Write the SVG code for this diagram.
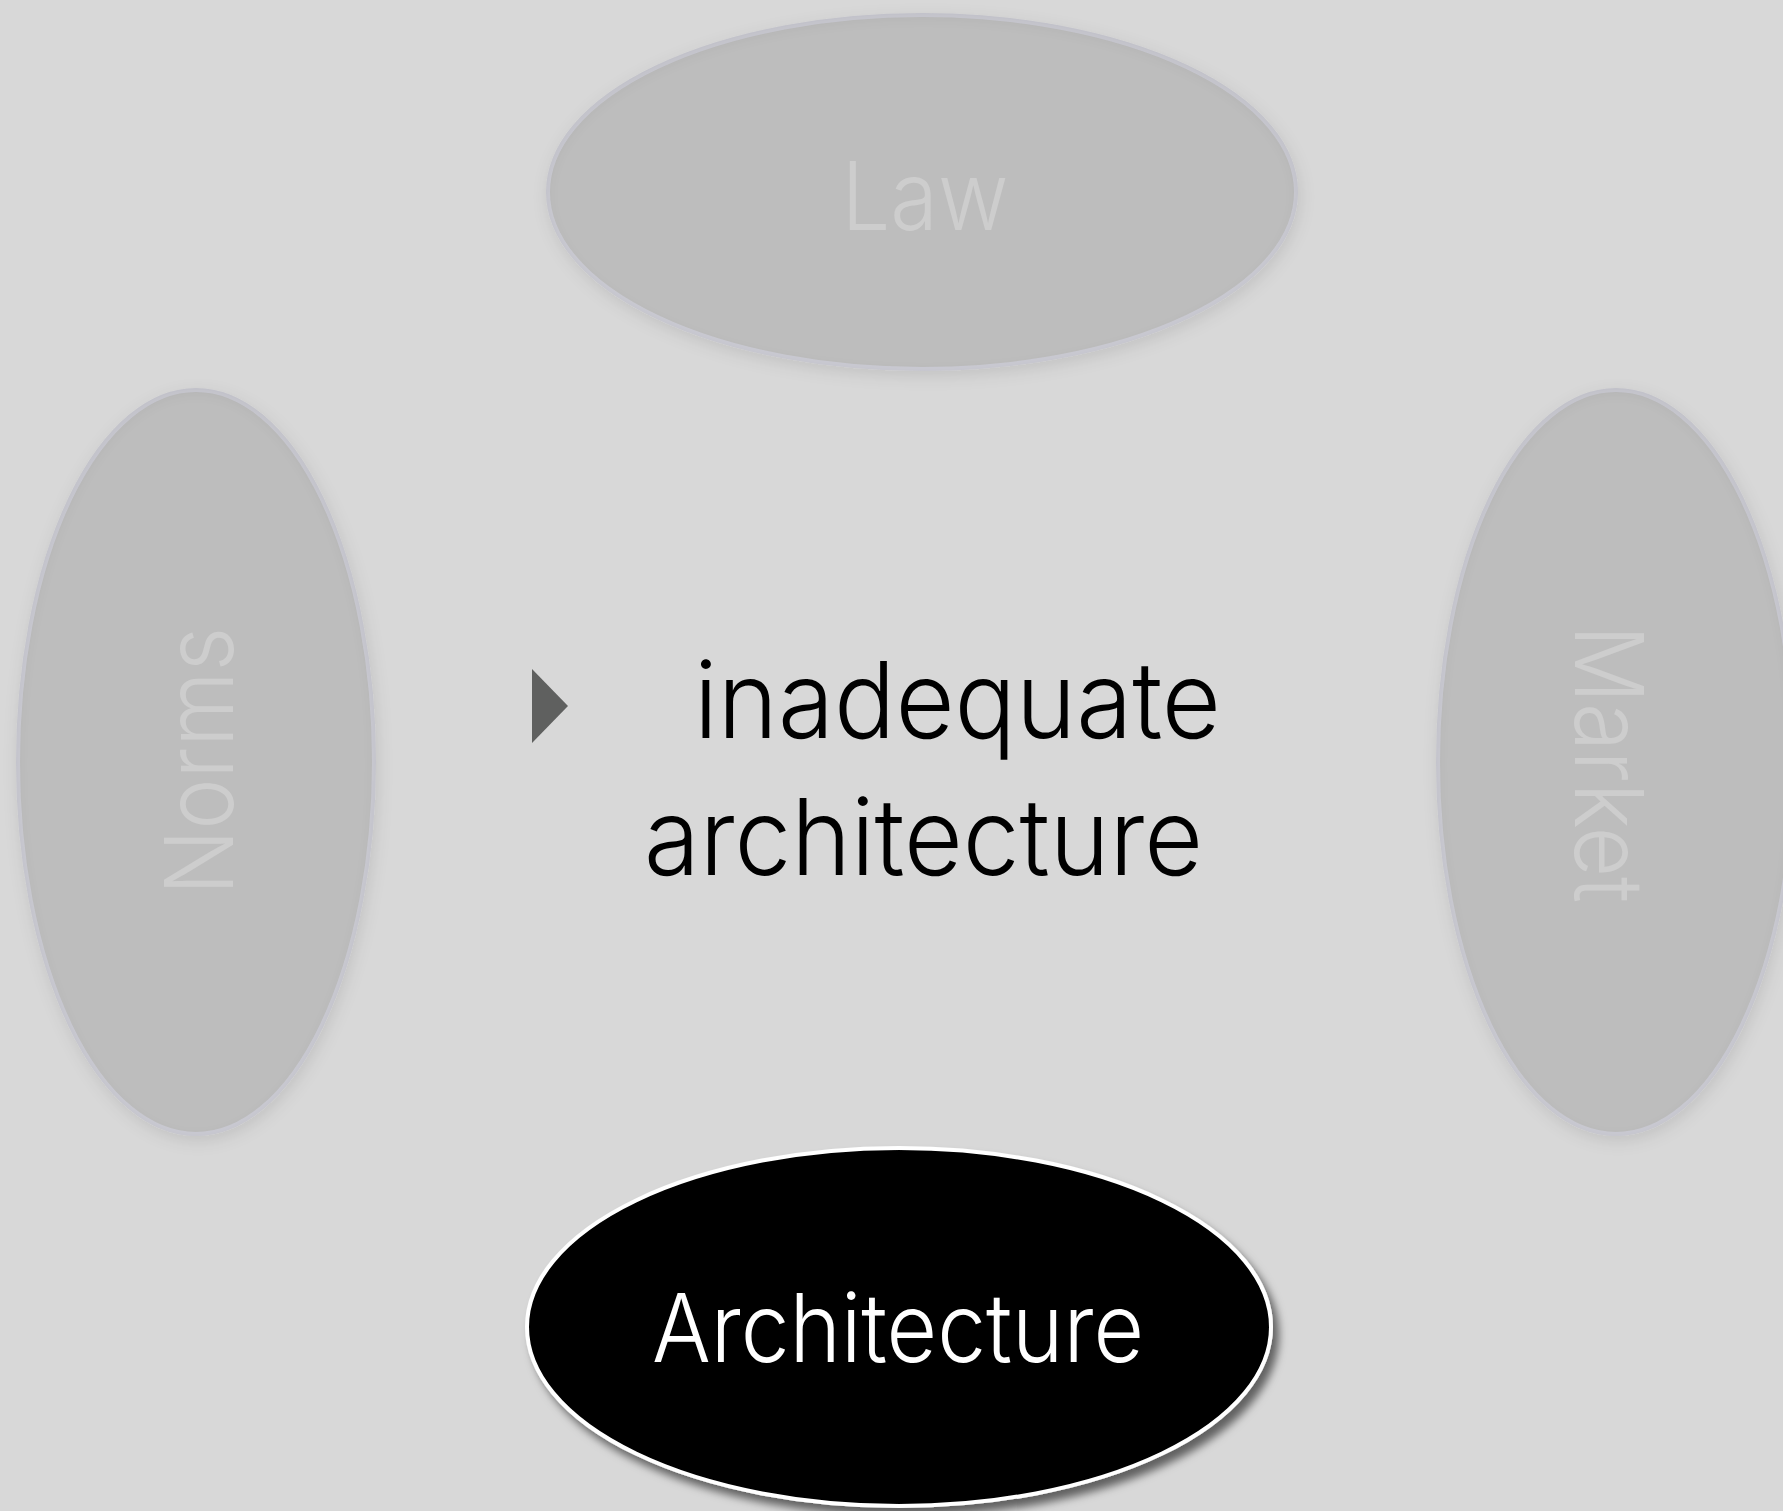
<svg xmlns="http://www.w3.org/2000/svg" width="1783" height="1511" viewBox="0 0 1783 1511">
  <style>
    .faded { fill: #bdbdbd; stroke: #cbcbd3; stroke-width: 4; }
    .faded-label { font-family: Inter, "Liberation Sans", Arial, sans-serif; font-weight: 300; font-size: 95px; fill: #cdcdcd; }
    .body-text { font-family: Inter, "Liberation Sans", Arial, sans-serif; font-weight: 300; font-size: 106px; fill: #000000; }
    .focus { fill: #000000; stroke: #ffffff; stroke-width: 4; }
    .focus-label { font-family: Inter, "Liberation Sans", Arial, sans-serif; font-weight: 300; font-size: 95px; fill: #ffffff; }
  </style>
  <defs>
    <!-- soft halo plus a darker rim just inside the edge -->
    <filter id="softShape" x="-10%" y="-10%" width="120%" height="120%">
      <feComponentTransfer in="SourceAlpha" result="inv">
        <feFuncA type="table" tableValues="1 0"/>
      </feComponentTransfer>
      <feGaussianBlur in="inv" stdDeviation="7" result="invBlur"/>
      <feOffset in="invBlur" dx="0" dy="3" result="invOff"/>
      <feFlood flood-color="#000000" flood-opacity="0.14"/>
      <feComposite in2="invOff" operator="in"/>
      <feComposite in2="SourceAlpha" operator="in" result="inner"/>
      <feGaussianBlur in="SourceAlpha" stdDeviation="8" result="outBlur"/>
      <feOffset in="outBlur" dx="2" dy="5" result="outOff"/>
      <feFlood flood-color="#000000" flood-opacity="0.10"/>
      <feComposite in2="outOff" operator="in" result="outer"/>
      <feMerge>
        <feMergeNode in="outer"/>
        <feMergeNode in="SourceGraphic"/>
        <feMergeNode in="inner"/>
      </feMerge>
    </filter>
    <filter id="dropShadow" x="-10%" y="-10%" width="125%" height="130%">
      <feGaussianBlur in="SourceAlpha" stdDeviation="4" result="b"/>
      <feOffset in="b" dx="6" dy="8" result="o"/>
      <feFlood flood-color="#000000" flood-opacity="0.55"/>
      <feComposite in2="o" operator="in" result="s"/>
      <feMerge>
        <feMergeNode in="s"/>
        <feMergeNode in="SourceGraphic"/>
      </feMerge>
    </filter>
  </defs>

  <rect x="0" y="0" width="1783" height="1511" fill="#d8d8d8"/>

  <g id="law">
    <ellipse class="faded" cx="922" cy="192" rx="374" ry="177" filter="url(#softShape)"/>
    <text class="faded-label" x="925" y="230" text-anchor="middle" textLength="167" lengthAdjust="spacingAndGlyphs">Law</text>
  </g>

  <g id="norms">
    <ellipse class="faded" cx="196" cy="762" rx="178" ry="372" filter="url(#softShape)"/>
    <text class="faded-label" transform="translate(233 761) rotate(-90)" x="0" y="0" text-anchor="middle" textLength="268" lengthAdjust="spacingAndGlyphs">Norms</text>
  </g>

  <g id="market">
    <ellipse class="faded" cx="1616" cy="762" rx="178" ry="372" filter="url(#softShape)"/>
    <text class="faded-label" transform="translate(1575 764) rotate(90)" x="0" y="0" text-anchor="middle" textLength="278" lengthAdjust="spacingAndGlyphs">Market</text>
  </g>

  <g id="architecture">
    <ellipse class="focus" cx="899" cy="1327" rx="372" ry="179" filter="url(#dropShadow)"/>
    <text class="focus-label" x="898" y="1362" text-anchor="middle" textLength="492" lengthAdjust="spacingAndGlyphs">Architecture</text>
  </g>

  <g id="bullet">
    <polygon points="532,669 568,706 532,743" fill="#5f605f"/>
    <text class="body-text" x="694" y="738" textLength="527" lengthAdjust="spacingAndGlyphs">inadequate</text>
    <text class="body-text" x="644" y="875" textLength="559" lengthAdjust="spacingAndGlyphs">architecture</text>
  </g>

  <g id="connectors"/>
</svg>
